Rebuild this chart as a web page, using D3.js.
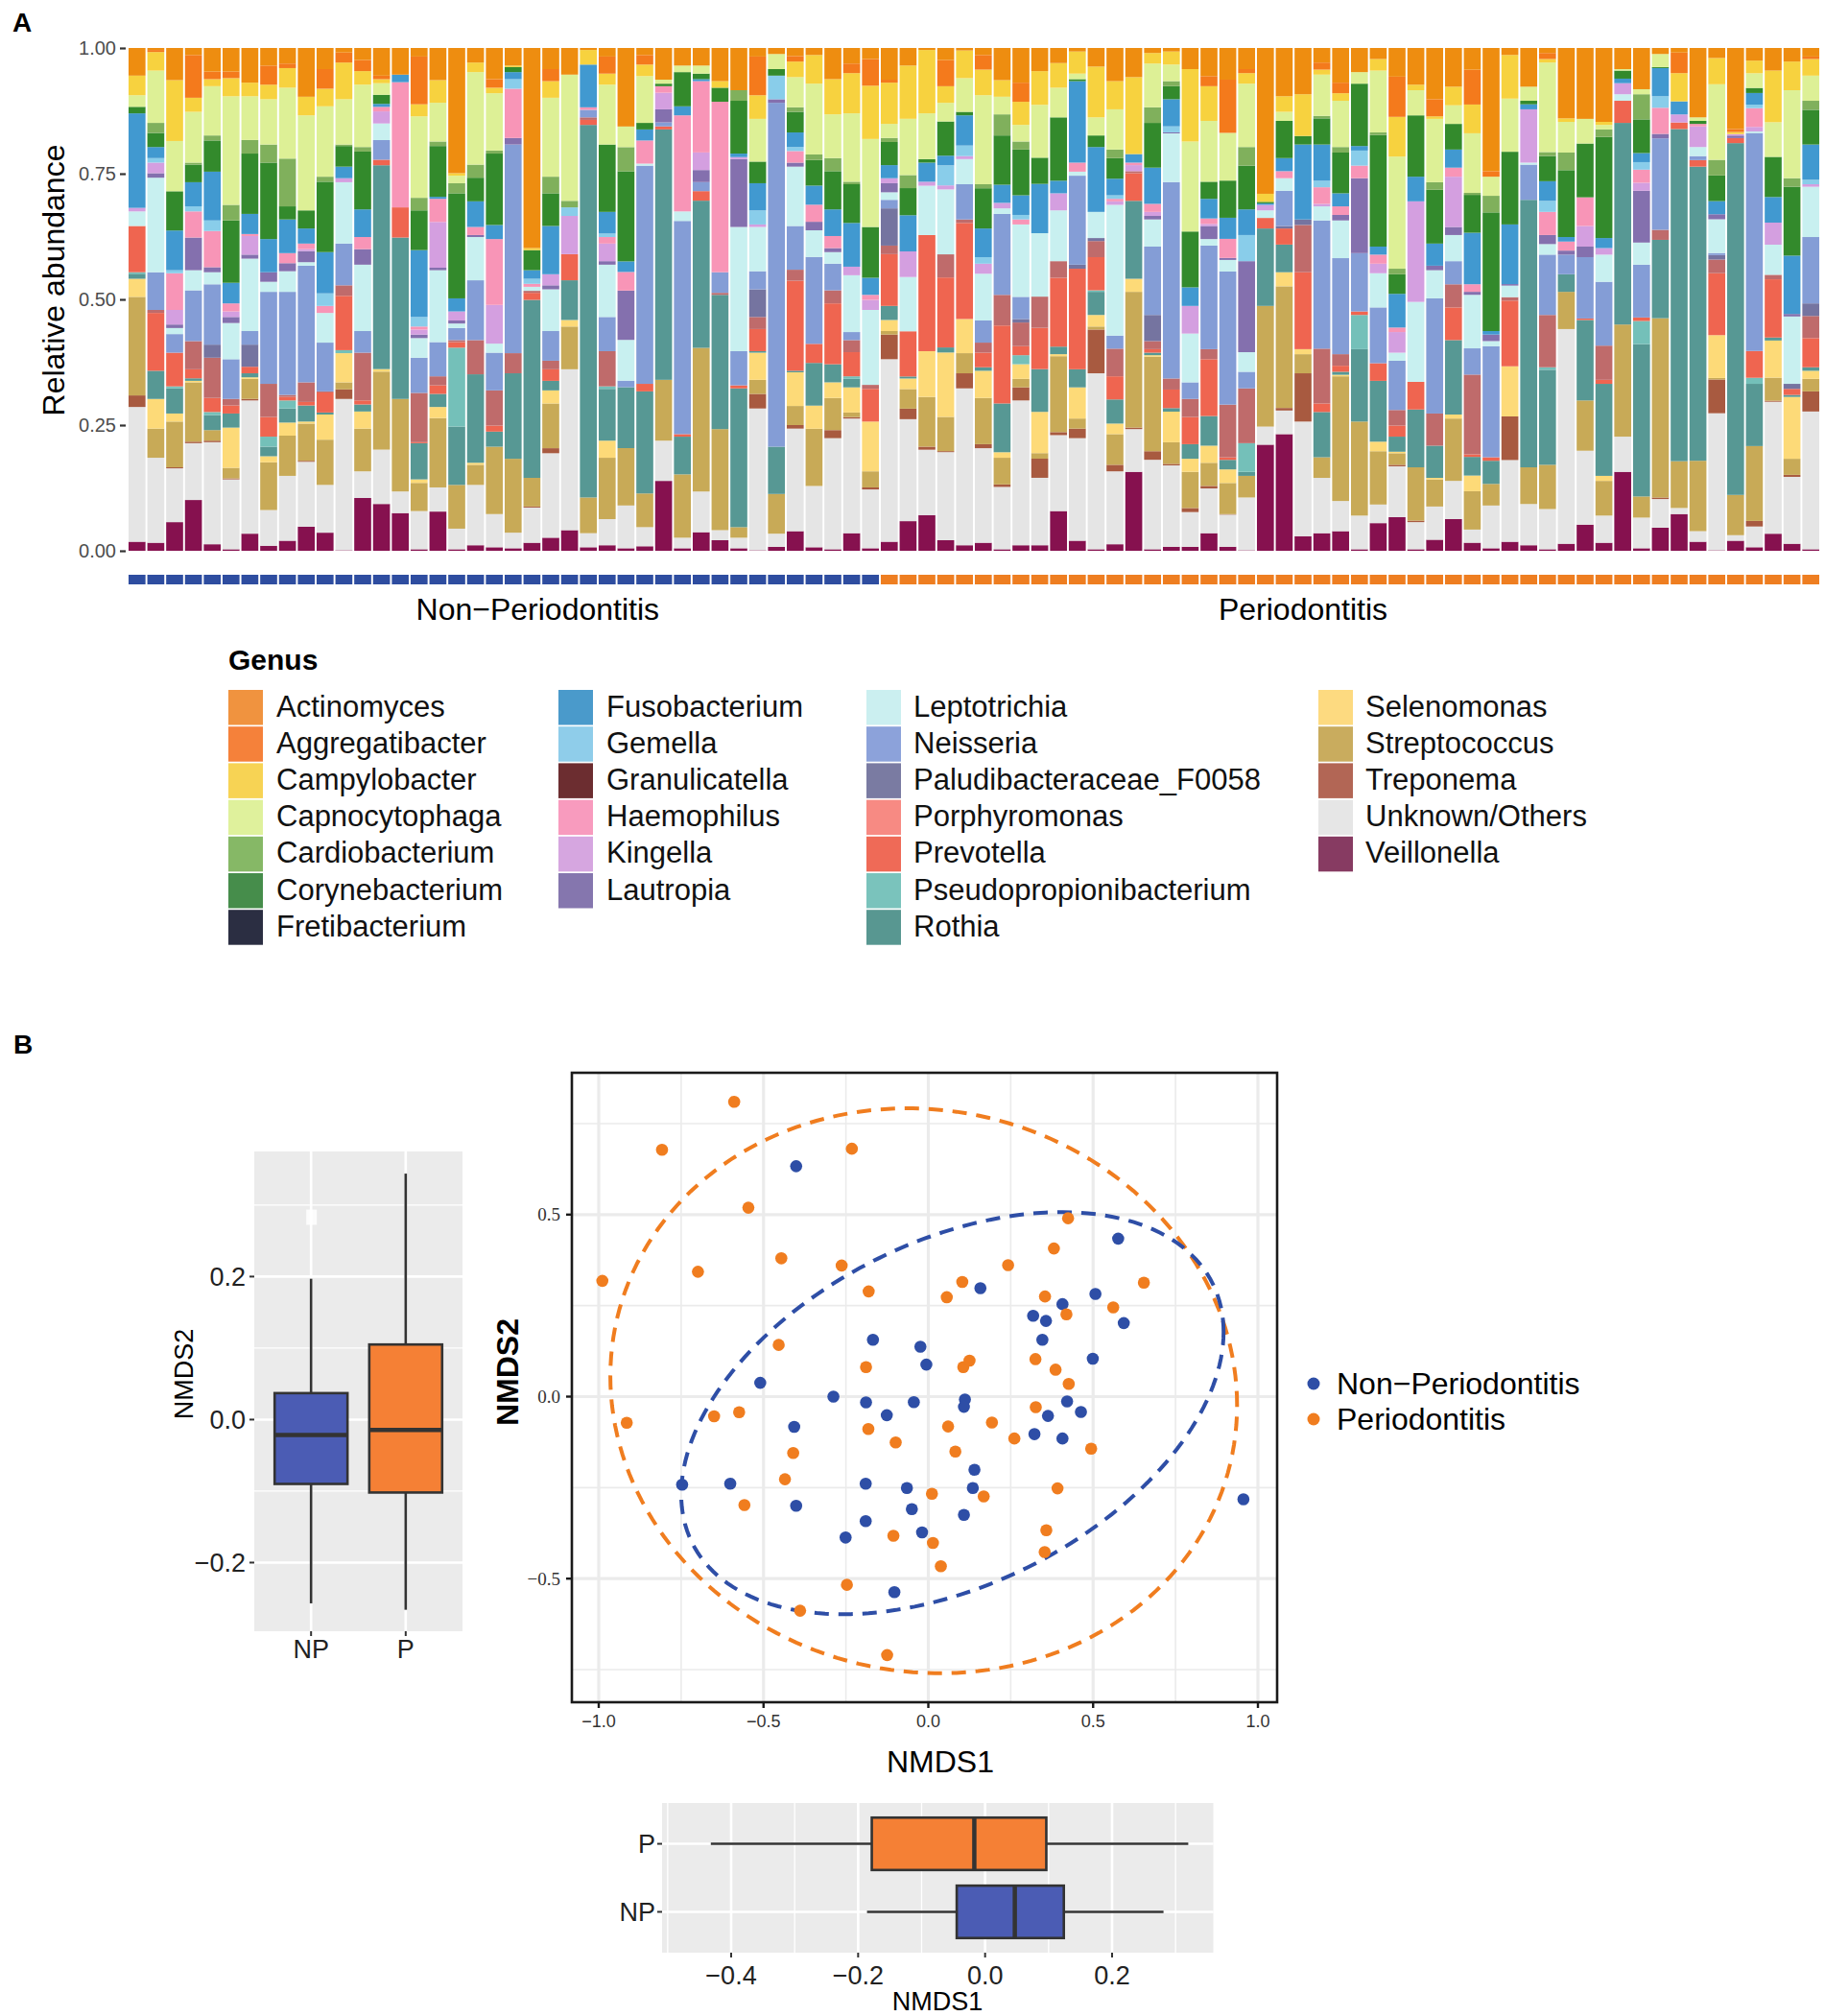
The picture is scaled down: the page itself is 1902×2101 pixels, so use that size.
<!DOCTYPE html>
<head>
  <meta charset="utf-8">
  <script src="https://d3js.org/d3.v7.min.js"></script>
  <style>
    body { margin: 0; background: #fff; }
    text { font-family: 'Liberation Sans', Arial, sans-serif; fill: #1a1a1a; }
    text.tag { font-size: 28px; font-weight: 700; fill: #000; }
    text.tickA { font-size: 20px; fill: #4d4d4d; }
    text.title32 { font-size: 32px; fill: #000; }
    text.legendTitle { font-size: 30px; font-weight: 700; fill: #000; }
    text.legendItem { font-size: 31px; fill: #111; }
    text.box { font-size: 27px; fill: #222; }
    text.scatterTick { font-size: 18px; fill: #333; }
    text.scatterTickY { font-size: 19px; fill: #333; font-family: 'Liberation Serif', 'DejaVu Serif', serif; }
  </style>
</head>

<body>
  <script>
    // ---------- panel A data (percent per sample) ----------
    const genera = ['Actinomyces', 'Aggregatibacter', 'Campylobacter', 'Capnocytophaga', 'Cardiobacterium',
      'Corynebacterium', 'Fretibacterium', 'Fusobacterium', 'Gemella', 'Granulicatella', 'Haemophilus',
      'Kingella', 'Lautropia', 'Leptotrichia', 'Neisseria', 'Paludibacteraceae_F0058', 'Porphyromonas',
      'Prevotella', 'Pseudopropionibacterium', 'Rothia', 'Selenomonas', 'Streptococcus', 'Treponema',
      'Unknown/Others', 'Veillonella'];
    const barColours = ['#ee8d10', '#f47a1c', '#f7d23f', '#ddf096', '#80b05c', '#338a2c', '#2b2e42', '#4199d0',
      '#89cdea', '#6d2b2d', '#f895b7', '#d49fe0', '#8470ae', '#c8f0f0', '#849dd6', '#7574a0', '#bf6b6b',
      '#ef6550', '#74c0b9', '#579894', '#fdda78', '#c8aa57', '#a85a40', '#e5e5e5', '#86114f'];
    const legendColours = ['#f0933f', '#f5813a', '#f7d354', '#dff19c', '#86b866', '#468d4b', '#2b2e42', '#4a9acb',
      '#8fcdea', '#6c2d30', '#f89bbe', '#d6a6e0', '#8576ae', '#cbeff0', '#8ca2da', '#7a7ba2', '#f78a83',
      '#ef6a57', '#7ac3bc', '#589791', '#fdda80', '#c9ac5e', '#b26655', '#e6e6e6', '#873b62'];
    const legendRows = [7, 6, 7, 5];

    const groupNames = ['Non\u2212Periodontitis', 'Periodontitis'];
    const groupSizes = [40, 50];
    const groupColours = ['#2e4da0', '#ee7e21'];

    const actinomyces = [5.5, 0.4, 6.4, 1.4, 4.7, 4.7, 6.9, 3.5, 3.1, 9.7,
      4.2, 0.9, 2.4, 5.5, 5.3, 1.7, 6.4, 24.9, 2.9, 6.2,
      3.5, 39.8, 4.2, 5.3, 0.4, 1.7, 15.6, 1.4, 6.3, 3.5,
      3.5, 6.6, 8.4, 1.7, 1.2, 1.6, 1.4, 6.2, 3.1, 2.2,
      6.3, 3.5, 0.4, 2.4, 0.5, 1.4, 6.4, 6.9, 4.6, 3.0,
      0.7, 3.7, 6.6, 5.8, 1.0, 0.7, 4.2, 5.6, 6.3, 4.2,
      29.0, 9.6, 9.2, 2.9, 6.9, 4.8, 2.2, 5.7, 7.3, 10.2,
      7.7, 4.3, 24.5, 1.4, 7.7, 1.0, 14.0, 14.1, 14.7, 4.2,
      8.2, 1.2, 0.9, 13.8, 2.0, 16.1, 2.5, 4.5, 2.7, 1.7];
    const aggregatibacter = [0, 0.4, 0, 8.5, 1.5, 1.3, 0, 3.8, 0.9, 0,
      3.9, 2.0, 2.2, 0.7, 0, 9.5, 0, 0, 0, 1.7,
      0, 0, 2.4, 0, 0, 3.4, 0, 1.9, 0, 0,
      0, 0, 0, 7.7, 0, 1.1, 0, 0, 1.9, 5.3,
      0.6, 0, 0, 5.2, 0, 2.9, 0, 3.8, 0, 0,
      0, 0, 0, 0, 0, 0, 0, 2.0, 10.6, 0.8,
      0, 0, 0, 1.4, 2.1, 0, 0, 8.0, 0, 3.4,
      0, 6.9, 1.1, 0, 0, 1.2, 0, 0, 0, 0,
      0, 0, 4.1, 0, 0, 0.6, 0, 0, 0, 0.5];
    const campylobacter = [3.9, 3.7, 12.1, 2.8, 1.4, 3.6, 2.7, 2.9, 3.9, 3.7,
      3.5, 7.3, 2.7, 0.8, 0, 2.4, 4.5, 0.5, 1.9, 1.1,
      0.3, 0.4, 3.3, 0, 2.9, 2.2, 0, 2.3, 0, 0,
      0, 1.3, 0, 4.7, 0, 3.1, 5.7, 7.0, 8.0, 10.6,
      8.2, 10.6, 12.6, 3.3, 5.5, 5.1, 3.3, 4.6, 6.7, 4.9,
      4.4, 10.1, 5.6, 15.3, 2.1, 2.6, 14.4, 6.9, 0, 2.1,
      1.6, 3.1, 8.3, 1.0, 1.5, 0, 2.3, 7.9, 1.1, 0.5,
      3.7, 5.7, 0, 8.7, 0, 0.7, 0.7, 0, 0.6, 0,
      0, 0, 5.6, 0, 5.2, 0.4, 2.5, 10.3, 5.7, 3.3];
    const capnocytophaga = [2.3, 10.4, 10.0, 10.1, 9.8, 21.6, 8.7, 9.0, 14.1, 18.9,
      14.0, 9.0, 12.4, 2.3, 0, 16.2, 7.7, 1.5, 18.4, 11.4,
      0, 0, 15.7, 25.1, 0, 11.9, 4.1, 9.3, 0.8, 1.3,
      1.6, 0, 0, 8.5, 3.0, 6.0, 14.1, 8.7, 13.6, 17.5,
      2.8, 11.2, 9.1, 3.7, 6.7, 17.7, 3.5, 3.3, 10.5, 5.9,
      1.1, 3.6, 8.0, 0, 8.7, 3.3, 17.9, 12.1, 9.5, 12.6,
      0, 1.8, 0, 8.2, 9.2, 2.3, 12.3, 22.3, 5.0, 12.6,
      3.7, 11.8, 3.8, 10.6, 2.8, 17.8, 6.1, 4.9, 0.9, 0.3,
      1.0, 2.6, 0, 0.7, 15.0, 0, 2.9, 6.9, 17.5, 5.0];
    const cardiobacterium = [0, 2.0, 0, 0.4, 1.0, 3.1, 2.7, 3.6, 9.5, 0,
      1.0, 0.3, 0.9, 0, 0, 2.5, 0.9, 2.0, 2.6, 0.6,
      0, 0, 3.3, 1.3, 0, 0, 4.8, 0, 0, 0,
      0, 0, 2.1, 0, 0, 0.9, 1.1, 2.6, 0.5, 0,
      0.8, 2.6, 0, 0, 0, 0.8, 4.2, 1.6, 0, 0,
      0, 0, 1.7, 0, 3.1, 1.0, 0, 0, 0, 3.7,
      0, 0, 0, 0.5, 1.1, 0, 0.5, 1.1, 0, 1.5,
      0, 0.4, 3.3, 0, 0, 0.8, 3.5, 0, 1.5, 0,
      5.0, 0, 0, 0, 3.1, 0, 0, 0, 1.7, 1.8];
    const corynebacterium = [1.3, 2.8, 7.8, 3.5, 6.2, 12.4, 12.0, 15.2, 2.6, 3.6,
      14.0, 4.1, 11.5, 1.8, 0, 7.9, 10.1, 20.9, 4.7, 14.2,
      1.0, 4.0, 6.5, 0, 0, 13.4, 17.9, 1.3, 0.5, 6.8,
      1.1, 2.8, 10.5, 4.3, 1.3, 4.1, 5.1, 7.6, 7.7, 10.1,
      4.6, 5.4, 0.7, 6.8, 0.7, 8.0, 9.8, 9.1, 5.2, 12.6,
      0.4, 2.3, 4.1, 0, 8.9, 2.6, 11.1, 3.4, 7.4, 8.7,
      0.3, 7.4, 1.7, 5.2, 8.1, 12.4, 22.2, 3.9, 12.2, 10.7,
      5.1, 7.5, 23.6, 14.5, 0.7, 5.0, 13.3, 10.7, 20.1, 1.6,
      6.7, 0.2, 0, 0.6, 5.1, 0, 1.0, 8.0, 13.7, 6.9];
    const fretibacterium = [0, 0, 0, 0, 0, 0, 0, 0, 0, 0,
      0, 0, 0, 0, 0, 0, 0, 0, 0, 0,
      0, 0, 0, 0, 0, 0, 0, 0, 0, 0,
      0, 0, 0, 0, 0, 0, 0, 0, 0, 0,
      0, 0, 0, 0, 0, 0, 0, 0, 0, 0,
      0, 0, 0, 0, 0, 0, 0, 0, 0, 0,
      0, 0, 0, 0, 0, 0, 0, 0, 0, 0,
      0, 0, 0, 0, 0, 0, 0, 0, 0, 0,
      0, 0, 0, 0, 0, 0, 0, 0, 0, 0];
    const fusobacterium = [18.8, 2.2, 7.9, 4.8, 9.7, 4.1, 4.0, 6.6, 6.7, 3.0,
      8.2, 2.3, 5.5, 0.6, 1.5, 13.3, 0.4, 2.6, 5.1, 2.8,
      1.4, 1.7, 9.6, 0, 8.5, 4.3, 2.1, 2.2, 0, 1.8,
      0.4, 0, 0.7, 5.4, 0, 2.9, 3.8, 5.3, 8.7, 3.4,
      2.6, 7.2, 3.8, 1.9, 6.0, 5.7, 3.6, 3.9, 9.8, 2.5,
      16.2, 12.9, 3.3, 1.7, 7.2, 5.4, 3.7, 3.9, 4.2, 5.1,
      0.3, 2.6, 14.9, 7.2, 2.6, 0.9, 1.6, 6.7, 4.9, 4.4,
      3.6, 10.2, 0.7, 11.9, 1.0, 3.9, 0.9, 0, 2.0, 0.9,
      1.8, 5.6, 2.6, 0, 2.6, 0, 2.3, 5.1, 11.6, 7.0];
    const gemella = [0, 0.9, 0.6, 1.0, 2.1, 0, 0, 0, 0, 0,
      2.5, 0, 0, 0, 0, 1.9, 0, 0, 0, 0,
      1.9, 1.0, 0, 1.7, 0, 0.7, 0, 0, 0, 0,
      0, 0, 0, 2.8, 4.7, 0.8, 0, 0, 0, 0,
      0, 0, 0, 4.0, 2.1, 1.3, 0, 0.9, 0, 0,
      0, 0, 0.7, 0, 0, 1.2, 0, 0, 0, 5.2,
      0, 0, 0, 1.3, 0, 3.0, 0, 0, 0, 0,
      0, 0, 0, 0, 0, 2.2, 0, 0, 0, 0,
      1.5, 2.3, 0, 0, 0, 0, 0.7, 0, 0, 0.9];
    const granulicatella = [0, 0, 0, 0, 0, 0, 0, 0, 0, 0,
      0, 0, 0, 0, 0, 0, 0, 0, 0, 0,
      0, 0, 0, 0, 0, 0, 0, 0, 0, 0,
      0, 0, 0, 0, 0, 0, 0, 0, 0, 0,
      0, 0, 0, 0, 0, 0, 0, 0, 0, 0,
      0, 0, 0, 0, 0, 0, 0, 0, 0, 0,
      0, 0, 0, 0, 0, 0, 0, 0, 0, 0,
      0, 0, 0, 0, 0, 0, 0, 0, 0, 0,
      0, 0, 0, 0, 0, 0, 0, 0, 0, 0];
    const haemophilus = [0, 0, 7.3, 5.2, 7.2, 1.6, 0.4, 0, 2.0, 1.1,
      1.4, 0, 2.4, 0.9, 24.9, 0.6, 4.6, 0, 1.6, 13.1,
      9.8, 0.6, 0, 0, 0.5, 1.3, 3.7, 4.6, 1.3, 19.1,
      14.2, 33.9, 0, 0, 0, 2.3, 3.4, 2.4, 0, 1.0,
      0, 0, 0, 0, 0, 0, 0, 1.0, 0, 0,
      1.8, 0, 0.5, 0.5, 1.6, 0, 0, 1.1, 3.8, 0,
      0, 1.4, 0, 3.3, 1.7, 2.5, 1.8, 0.9, 0, 0,
      1.8, 1.5, 0, 0, 0, 4.6, 1.8, 5.7, 0, 0,
      2.6, 5.2, 0, 0.5, 0, 0, 3.7, 0, 0, 0];
    const kingella = [0.7, 2.1, 2.9, 0, 0, 1.1, 3.7, 0, 0, 0.4,
      0, 0.8, 0, 2.4, 0, 1.0, 9.1, 1.8, 0, 7.7,
      0, 0, 2.2, 7.6, 0, 3.5, 0, 0, 3.3, 0,
      3.5, 0, 0.4, 0.5, 0, 0, 0, 0, 1.7, 2.0,
      1.0, 5.1, 0.8, 0.8, 0.6, 2.0, 1.1, 0, 0, 3.4,
      0, 0, 0.7, 1.2, 0.8, 0, 5.5, 0.4, 0, 0,
      1.1, 0, 0, 0.5, 0, 0, 1.9, 4.1, 20.0, 0,
      10.0, 0, 0, 0, 10.6, 0, 0, 4.1, 1.3, 2.2,
      1.6, 0, 1.6, 4.1, 0, 0.3, 0.9, 4.4, 0, 0.5];
    const lautropia = [0, 0.9, 0.7, 6.5, 1.0, 1.2, 0.8, 1.9, 1.6, 2.2,
      0, 0, 3.1, 0, 0, 0.7, 0.5, 0.6, 0.4, 0,
      1.3, 0, 0.8, 0, 0, 0.7, 9.8, 0, 2.6, 0,
      2.4, 0, 13.5, 0, 0.7, 0.8, 1.7, 0.8, 0, 0,
      1.8, 0, 0, 0, 0, 0, 0, 0, 0, 0,
      0, 0, 0, 0, 0.7, 0.2, 0, 2.6, 0.4, 18.1,
      0, 0, 0, 0, 1.1, 14.9, 0, 0, 0, 0.9,
      1.6, 0.6, 1.3, 0.3, 0, 1.8, 0.8, 2.1, 0, 0,
      10.3, 0.9, 0, 0, 1.0, 0.5, 0, 0, 0.5, 0];
    const leptotrichia = [2.9, 18.8, 1.2, 4.0, 2.4, 7.2, 14.4, 2.0, 4.1, 0.7,
      5.9, 12.2, 13.2, 3.3, 0, 3.9, 14.3, 0.9, 8.6, 1.8,
      0, 0.8, 8.3, 0, 0, 10.4, 8.1, 0.4, 0, 1.9,
      0, 0, 24.7, 8.8, 0, 11.8, 5.3, 2.3, 11.3, 14.9,
      1.5, 10.8, 9.8, 12.9, 5.0, 9.3, 1.1, 14.4, 12.6, 10.1,
      0.8, 5.2, 26.0, 0, 5.4, 9.7, 9.7, 1.3, 2.3, 3.9,
      1.5, 2.5, 0, 2.8, 7.5, 0, 6.8, 1.6, 15.9, 5.6,
      5.2, 10.6, 1.0, 2.3, 0.4, 2.1, 0, 0, 5.4, 1.3,
      4.4, 0, 0, 1.8, 6.7, 0, 0.3, 6.0, 13.4, 10.0];
    const neisseria = [0, 7.5, 3.7, 10.1, 12.0, 7.9, 2.7, 18.3, 20.5, 23.2,
      9.7, 8.3, 4.3, 3.9, 0, 7.0, 6.8, 2.4, 11.9, 7.5,
      41.5, 0, 5.9, 0, 1.5, 6.8, 1.3, 43.4, 0.8, 42.4,
      1.8, 4.1, 6.8, 3.6, 68.4, 8.7, 17.3, 5.3, 1.6, 0,
      1.7, 0, 0, 0, 7.0, 4.4, 16.1, 4.4, 0, 0,
      17.7, 0, 2.6, 0, 13.6, 39.1, 3.3, 20.6, 26.5, 3.3,
      0, 7.0, 0, 25.5, 19.1, 11.6, 11.1, 9.8, 0, 22.9,
      4.6, 5.2, 22.1, 0, 7.0, 12.0, 3.9, 12.2, 12.7, 0,
      10.5, 18.2, 0, 0.8, 0.4, 0, 43.1, 0, 0, 13.2];
    const paludibacteraceae = [0, 0, 0, 0, 2.6, 0, 4.4, 0, 0, 0,
      0, 0, 0, 0, 0, 0, 0, 0, 0, 0,
      0, 0, 0, 0, 0, 0, 0, 0, 0, 0,
      0, 0, 0, 5.5, 0, 0, 0, 0, 0, 0,
      7.4, 0, 0, 0, 0, 0, 0, 0.7, 0, 0,
      0.8, 0.6, 0, 0, 5.2, 0, 0, 0, 0, 0,
      0, 0.5, 1.1, 0, 0, 0, 0, 0, 0, 0,
      0, 0, 0, 0, 0, 0, 0, 0, 0, 0,
      0, 0, 0, 0, 0.9, 0, 0, 0, 1.0, 2.5];
    const porphyromonas = [0, 0.6, 0, 5.6, 8.0, 1.3, 0, 6.6, 0.4, 3.9,
      0.2, 2.1, 9.5, 0, 0, 9.8, 1.8, 0.4, 6.8, 7.0,
      4.0, 0.4, 1.7, 0, 0.5, 7.0, 0, 0, 0, 0,
      0, 0.4, 0, 2.4, 0, 2.2, 0, 2.6, 2.4, 0.8,
      1.7, 0, 0, 4.6, 0.7, 2.0, 6.1, 4.7, 6.2, 3.3,
      0, 3.2, 5.5, 0.4, 1.6, 2.2, 3.6, 2.0, 10.5, 10.9,
      0, 0, 9.4, 10.9, 2.3, 0, 0, 3.1, 0, 6.4,
      4.6, 15.8, 0, 0.7, 0, 10.4, 0, 0, 6.8, 0,
      0, 2.0, 0, 0, 2.7, 0, 0, 0.9, 0, 4.4];
    const prevotella = [9.2, 11.5, 6.7, 1.8, 2.8, 1.6, 1.3, 3.9, 0.7, 0.7,
      4.0, 10.8, 0.8, 1.1, 6.0, 0.2, 1.7, 1.1, 0, 1.2,
      0, 1.4, 2.3, 5.2, 1.0, 0, 0, 1.5, 0.6, 0.5,
      1.9, 0, 0.6, 4.4, 0, 17.9, 3.8, 12.1, 4.8, 6.5,
      10.3, 9.0, 23.1, 13.9, 19.1, 2.9, 15.5, 1.8, 8.2, 13.7,
      20.0, 6.6, 4.6, 5.5, 0.7, 3.7, 5.4, 11.3, 0.5, 0,
      2.1, 3.2, 15.3, 1.7, 1.2, 0.7, 3.5, 2.2, 5.5, 0,
      6.5, 0.5, 0.7, 13.1, 0, 0, 0, 0.3, 0.8, 4.4,
      0.7, 0, 1.3, 1.3, 12.3, 1.0, 5.3, 11.6, 1.2, 5.8];
    const pseudopropionibacterium = [0.3, 0, 0.4, 0, 0.6, 0, 0, 2.0, 1.6, 0,
      0, 0.6, 0, 0, 0, 0, 0, 15.7, 0, 0,
      0, 0, 0, 0, 0, 0.5, 0, 0, 0, 0,
      0, 0, 0, 0, 0, 0, 0, 0, 0.5, 0,
      0, 0, 0, 0, 0, 0, 0, 1.8, 0, 0,
      0, 0.3, 0, 0, 0, 0, 0, 0, 0, 5.7,
      0, 0, 0, 0, 0, 6.8, 0, 0, 0, 0,
      0, 0, 0, 0, 0, 0.5, 0, 0, 0, 0,
      4.6, 0, 0, 0, 0, 0, 1.2, 0, 0, 0];
    const rothia = [1.0, 5.6, 5.0, 0.5, 3.0, 2.8, 0.8, 1.9, 2.8, 3.2,
      0.4, 0, 1.4, 40.5, 32.1, 7.2, 2.6, 11.6, 17.6, 3.0,
      17.0, 35.4, 1.9, 7.9, 74.1, 10.3, 12.1, 20.3, 49.8, 7.5,
      29.3, 26.7, 27.6, 0.3, 9.4, 0.3, 8.5, 3.6, 1.7, 0,
      2.8, 0.4, 0, 1.0, 0, 0.7, 9.7, 0, 8.5, 1.5,
      3.6, 4.6, 4.8, 15.5, 0.5, 0.7, 2.9, 5.9, 1.9, 0.8,
      15.4, 5.5, 0, 9.0, 0.6, 14.4, 12.1, 3.0, 11.5, 6.4,
      14.8, 3.7, 4.6, 0, 53.2, 18.9, 3.5, 16.0, 18.3, 40.1,
      30.3, 15.6, 66.0, 58.5, 0, 69.9, 12.3, 0.6, 0.4, 0.7];
    const selenomonas = [3.6, 5.9, 1.6, 0.3, 0, 8.0, 0.3, 1.2, 2.6, 0.4,
      5.0, 5.8, 3.4, 0.5, 0, 0.7, 2.2, 0, 0.4, 0,
      0, 0, 2.6, 1.3, 0, 3.4, 0, 0, 0, 0,
      0, 0, 0, 5.4, 0, 6.7, 4.6, 3.1, 5.0, 9.9,
      2.2, 2.1, 9.1, 12.8, 6.8, 5.4, 1.1, 2.9, 8.2, 0.4,
      6.2, 2.3, 2.1, 2.6, 0.3, 6.1, 2.6, 3.4, 2.7, 0,
      0, 2.8, 1.0, 0, 0.3, 0, 1.9, 0.3, 0, 0.3,
      0.8, 3.1, 0, 10.0, 0, 0, 0, 0, 1.0, 0,
      0, 0, 0, 0, 8.5, 0, 0, 7.4, 12.3, 1.6];
    const streptococcus = [19.6, 5.8, 9.1, 11.8, 2.1, 2.1, 4.0, 9.5, 8.0, 7.4,
      9.0, 1.4, 8.5, 15.5, 18.4, 5.6, 13.8, 8.7, 4.0, 13.4,
      14.7, 5.7, 8.9, 8.5, 7.1, 12.2, 11.4, 6.7, 12.1, 12.6,
      28.6, 20.1, 2.1, 2.8, 7.9, 3.8, 11.4, 6.4, 0.9, 3.2,
      0.7, 3.9, 9.9, 6.8, 4.0, 9.2, 5.3, 1.7, 1.1, 15.1,
      2.0, 0.6, 6.1, 27.0, 18.8, 4.3, 7.2, 4.6, 6.2, 4.3,
      24.0, 24.2, 3.8, 4.1, 24.8, 18.7, 10.6, 2.3, 10.6, 5.4,
      12.4, 7.6, 4.3, 0, 7.3, 8.8, 7.4, 10.0, 6.9, 22.3,
      4.2, 35.7, 9.3, 14.0, 0.3, 8.0, 14.8, 4.6, 3.2, 2.5];
    const treponema = [2.3, 0, 0.2, 0.3, 0.3, 0.2, 0.3, 0, 0, 0.2,
      0, 1.9, 0, 0, 0, 0, 0, 0, 0, 0,
      0, 0.2, 1.0, 0, 0, 0, 0, 0, 0, 0,
      0, 0, 0, 2.9, 0, 0.7, 0, 1.6, 0.3, 0.4,
      4.9, 2.1, 0.6, 0.2, 3.0, 0.8, 0.5, 2.6, 3.8, 0.6,
      1.9, 8.7, 1.3, 0.3, 1.7, 0.3, 0.8, 0.5, 0.1, 0,
      0, 0.5, 9.6, 0, 0, 0, 0, 0.3, 0.3, 0,
      0, 0, 0, 8.7, 0, 0, 0, 0, 0, 0,
      0, 0.3, 0, 0, 6.7, 0, 1.1, 0.2, 0.4, 4.0];
    const unknownOthers = [26.8, 16.9, 10.7, 11.3, 20.3, 13.9, 26.5, 7.1, 12.9, 12.9,
      9.5, 30.1, 5.3, 10.8, 4.3, 7.6, 4.8, 4.1, 12.0, 6.6,
      3.1, 7.0, 16.8, 32.0, 2.8, 5.2, 8.5, 3.8, 8.0, 2.1,
      8.1, 2.0, 2.1, 28.2, 2.6, 20.4, 12.2, 22.1, 22.8, 11.7,
      36.3, 20.3, 13.0, 17.5, 31.2, 18.8, 12.4, 28.8, 13.4, 15.1,
      20.4, 35.0, 14.5, 8.5, 17.8, 16.2, 6.9, 8.9, 6.4, 10.5,
      3.6, 4.7, 22.8, 11.0, 6.0, 6.7, 3.7, 10.1, 5.4, 6.6,
      7.6, 2.6, 8.5, 16.3, 8.2, 8.0, 42.7, 14.7, 5.4, 7.0,
      6.1, 5.7, 1.2, 2.1, 27.2, 1.1, 4.1, 26.3, 13.3, 27.4];
    const veillonella = [1.8, 1.6, 5.7, 10.1, 1.3, 0.3, 3.4, 1.0, 2.0, 4.8,
      3.6, 0.1, 10.5, 9.3, 7.5, 0.3, 7.8, 0.3, 1.1, 0.7,
      0.5, 1.6, 2.6, 4.1, 0.7, 1.1, 0.5, 0.9, 13.9, 0.5,
      3.7, 2.1, 0.5, 0.1, 0.8, 3.9, 0.7, 0.3, 3.5, 0.5,
      1.8, 5.9, 7.1, 2.1, 1.1, 1.6, 0.3, 1.1, 1.1, 7.9,
      2.0, 0.3, 1.3, 15.7, 0.3, 0.8, 0.8, 3.5, 0.8, 0.1,
      21.1, 23.2, 2.9, 3.5, 3.9, 0.3, 5.5, 6.7, 0.3, 2.2,
      6.3, 1.6, 0.5, 1.8, 1.1, 0.3, 1.4, 5.2, 1.6, 15.7,
      0.5, 4.6, 7.3, 1.8, 0.1, 2.0, 0.7, 3.4, 1.4, 0.3];

    // ---------- panel B data ----------
    // NMDS scores
    const npX = [-0.401, 0.576, 0.158, 0.507, 0.407, 0.318, 0.357, 0.593, 0.346, -0.168,
      -0.024, -0.006, 0.499, -0.510, -0.288, -0.189, -0.126, -0.044, 0.111, 0.108,
      0.421, 0.463, 0.363, -0.407, 0.322, 0.407, -0.747, -0.601, -0.401, -0.190,
      -0.065, 0.140, 0.135, -0.050, 0.108, -0.190, -0.019, -0.251, -0.103, 0.956];
    const npY = [0.633, 0.434, 0.298, 0.282, 0.254, 0.222, 0.208, 0.202, 0.156, 0.156,
      0.137, 0.088, 0.104, 0.038, 0.000, -0.016, -0.051, -0.015, -0.008, -0.028,
      -0.013, -0.042, -0.053, -0.083, -0.103, -0.115, -0.242, -0.239, -0.300, -0.239,
      -0.251, -0.201, -0.251, -0.309, -0.325, -0.342, -0.373, -0.387, -0.537, -0.282];
    const pX = [-0.589, -0.808, -0.232, -0.546, -0.989, -0.699, -0.446, -0.263, -0.181, 0.424,
      0.381, 0.242, 0.103, 0.056, 0.354, 0.419, 0.561, 0.654, -0.454, -0.189,
      0.106, 0.125, 0.325, 0.386, 0.426, 0.326, -0.915, -0.650, -0.574, -0.182,
      -0.099, 0.060, 0.193, 0.261, 0.494, 0.082, -0.410, -0.435, -0.558, 0.011,
      0.168, 0.392, -0.106, 0.014, 0.038, 0.358, 0.353, -0.247, -0.389, -0.125];
    const pY = [0.810, 0.678, 0.681, 0.519, 0.318, 0.343, 0.380, 0.360, 0.289, 0.490,
      0.407, 0.361, 0.315, 0.273, 0.275, 0.226, 0.245, 0.313, 0.142, 0.081,
      0.081, 0.099, 0.103, 0.074, 0.035, -0.029, -0.072, -0.054, -0.043, -0.089,
      -0.126, -0.082, -0.071, -0.115, -0.143, -0.151, -0.155, -0.227, -0.298, -0.267,
      -0.274, -0.252, -0.382, -0.402, -0.466, -0.367, -0.427, -0.517, -0.588, -0.710];
    // ellipse: centre x, centre y, var x, var y, cov xy
    const ellipseNP = [0.073, -0.0455, 0.677, 0.305, 0.1835];
    const ellipseP = [-0.014, 0.016, 0.904, 0.602, -0.038];

    // box stats: lower whisker, q1, median, q3, upper whisker
    const nmds2BoxNP = [-0.257, -0.090, -0.0216, 0.037, 0.197];
    const nmds2BoxP = [-0.266, -0.102, -0.0145, 0.105, 0.344];
    const nmds2OutlierNP = [0.283];
    const nmds1BoxNP = [-0.186, -0.0447, 0.0468, 0.124, 0.281];
    const nmds1BoxP = [-0.432, -0.1785, -0.017, 0.0964, 0.320];

    const npColour = '#2e4ea6', pColour = '#f07d1f';
    const npFill = '#4b5cb4', pFill = '#f58035';

    // ================= drawing =================
    const width = 1902, height = 2101;
    const svg = d3.select('body').append('svg')
      .attr('width', width)
      .attr('height', height);
    svg.append('rect').attr('width', width).attr('height', height).attr('fill', '#fff');

    svg.append('text').attr('class', 'tag').attr('x', 13).attr('y', 33).text('A');
    svg.append('text').attr('class', 'tag').attr('x', 14).attr('y', 1098).text('B');

    // ---- A: stacked bars ----
    const abundance = {};
    [actinomyces, aggregatibacter, campylobacter, capnocytophaga, cardiobacterium, corynebacterium,
      fretibacterium, fusobacterium, gemella, granulicatella, haemophilus, kingella, lautropia,
      leptotrichia, neisseria, paludibacteraceae, porphyromonas, prevotella, pseudopropionibacterium,
      rothia, selenomonas, streptococcus, treponema, unknownOthers, veillonella]
      .forEach((arr, i) => abundance[genera[i]] = arr);

    const nSamples = d3.sum(groupSizes);
    const samples = d3.range(nSamples).map(i => ({
      id: 'S' + (i + 1),
      group: i < groupSizes[0] ? 0 : 1
    }));
    const rows = samples.map((s, i) => {
      const tot = d3.sum(genera, g => abundance[g][i]);
      const r = { id: s.id };
      genera.forEach(g => r[g] = abundance[g][i] / tot);
      return r;
    });

    const x = d3.scaleBand()
      .domain(samples.map(d => d.id))
      .range([133, 1897])
      .paddingInner(0.1)
      .paddingOuter(0.05);
    const y = d3.scaleLinear().domain([0, 1]).range([574, 50]);

    const stacked = d3.stack().keys(genera.slice().reverse())(rows);

    svg.append('g')
      .selectAll('g')
      .data(stacked)
      .join('g')
      .attr('fill', d => barColours[genera.indexOf(d.key)])
      .selectAll('rect')
      .data(d => d)
      .join('rect')
      .attr('x', d => x(d.data.id))
      .attr('width', x.bandwidth())
      .attr('y', d => y(d[1]))
      .attr('height', d => Math.max(0, y(d[0]) - y(d[1])));

    const yAxisA = svg.append('g')
      .attr('transform', 'translate(131,0)')
      .call(d3.axisLeft(y).tickValues([0, 0.25, 0.5, 0.75, 1]).tickFormat(d3.format('.2f')).tickSize(6).tickPadding(4))
      .attr('font-size', null).attr('font-family', null);
    yAxisA.select('.domain').remove();
    yAxisA.selectAll('line').attr('stroke', '#333').attr('stroke-width', 2.2);
    yAxisA.selectAll('text').attr('class', 'tickA');

    svg.append('text')
      .attr('class', 'title32')
      .attr('transform', 'translate(67,292) rotate(-90)')
      .style('text-anchor', 'middle')
      .text('Relative abundance');

    // group strip
    svg.append('g')
      .selectAll('rect')
      .data(samples)
      .join('rect')
      .attr('x', d => x(d.id))
      .attr('width', x.bandwidth())
      .attr('y', 599)
      .attr('height', 10)
      .attr('fill', d => groupColours[d.group]);

    const idx = d3.scaleLinear().domain([0, nSamples]).range([133, 1897]);
    const groupLabelAt = [21.8, 62.5];
    groupNames.forEach((g, i) => {
      svg.append('text')
        .attr('class', 'title32')
        .attr('x', idx(groupLabelAt[i]))
        .attr('y', 646)
        .style('text-anchor', 'middle')
        .text(g);
    });

    // legend
    svg.append('text').attr('class', 'legendTitle').attr('x', 238).attr('y', 698).text('Genus');
    const keyX = [238, 582, 903, 1374];
    const labelX = [288, 632, 952, 1423];
    const colStart = d3.cumsum([0].concat(legendRows));
    genera.forEach((g, i) => {
      const col = d3.bisectRight(colStart, i) - 1;
      const row = i - colStart[col];
      const top = 719 + row * 38.2;
      svg.append('rect')
        .attr('x', keyX[col]).attr('y', top)
        .attr('width', 36).attr('height', 36.5)
        .attr('fill', legendColours[i]);
      svg.append('text')
        .attr('class', 'legendItem')
        .attr('x', labelX[col]).attr('y', top + 18 + 9.5)
        .text(g);
    });

    // ---- B: box plot helper ----
    function boxPanel(opts) {
      const g = svg.append('g');
      const { vScale, cScale, horizontal, stats, fills, cats, majors, minors, fmt, box } = opts;
      g.append('rect')
        .attr('x', box[0]).attr('y', box[1])
        .attr('width', box[2] - box[0]).attr('height', box[3] - box[1])
        .attr('fill', '#ebebeb');
      const gl = (v, w, along) => {
        if (along === 'value') {
          const p = vScale(v);
          if (horizontal) g.append('line').attr('x1', p).attr('x2', p).attr('y1', box[1]).attr('y2', box[3]).attr('stroke', '#fff').attr('stroke-width', w);
          else g.append('line').attr('y1', p).attr('y2', p).attr('x1', box[0]).attr('x2', box[2]).attr('stroke', '#fff').attr('stroke-width', w);
        } else {
          const p = cScale(v);
          if (horizontal) g.append('line').attr('y1', p).attr('y2', p).attr('x1', box[0]).attr('x2', box[2]).attr('stroke', '#fff').attr('stroke-width', w);
          else g.append('line').attr('x1', p).attr('x2', p).attr('y1', box[1]).attr('y2', box[3]).attr('stroke', '#fff').attr('stroke-width', w);
        }
      };
      minors.forEach(v => gl(v, 1.3, 'value'));
      majors.forEach(v => gl(v, 2.6, 'value'));
      cats.forEach((c, i) => gl(i + 1, 2.6, 'cat'));

      const half = 0.385;
      stats.forEach((s, i) => {
        const c = i + 1;
        const lineAttrs = (sel) => sel.attr('stroke', '#333').attr('stroke-width', 2.6);
        if (horizontal) {
          const cy = cScale(c);
          lineAttrs(g.append('line').attr('x1', vScale(s[0])).attr('x2', vScale(s[1])).attr('y1', cy).attr('y2', cy));
          lineAttrs(g.append('line').attr('x1', vScale(s[3])).attr('x2', vScale(s[4])).attr('y1', cy).attr('y2', cy));
          const y0 = cScale(c - half), y1 = cScale(c + half);
          g.append('rect')
            .attr('x', vScale(s[1])).attr('width', vScale(s[3]) - vScale(s[1]))
            .attr('y', Math.min(y0, y1)).attr('height', Math.abs(y1 - y0))
            .attr('fill', fills[i]).attr('stroke', '#333').attr('stroke-width', 2.6);
          g.append('line').attr('x1', vScale(s[2])).attr('x2', vScale(s[2]))
            .attr('y1', Math.min(y0, y1)).attr('y2', Math.max(y0, y1))
            .attr('stroke', '#333').attr('stroke-width', 4.5);
        } else {
          const cx = cScale(c);
          lineAttrs(g.append('line').attr('y1', vScale(s[0])).attr('y2', vScale(s[1])).attr('x1', cx).attr('x2', cx));
          lineAttrs(g.append('line').attr('y1', vScale(s[3])).attr('y2', vScale(s[4])).attr('x1', cx).attr('x2', cx));
          const x0 = cScale(c - half), x1 = cScale(c + half);
          g.append('rect')
            .attr('x', x0).attr('width', x1 - x0)
            .attr('y', vScale(s[3])).attr('height', vScale(s[1]) - vScale(s[3]))
            .attr('fill', fills[i]).attr('stroke', '#333').attr('stroke-width', 2.6);
          g.append('line').attr('y1', vScale(s[2])).attr('y2', vScale(s[2]))
            .attr('x1', x0).attr('x2', x1)
            .attr('stroke', '#333').attr('stroke-width', 4.5);
        }
      });

      // axes
      majors.forEach(v => {
        const p = vScale(v);
        if (horizontal) {
          g.append('line').attr('x1', p).attr('x2', p).attr('y1', box[3]).attr('y2', box[3] + 5).attr('stroke', '#333').attr('stroke-width', 2);
          g.append('text').attr('class', 'box').attr('x', p).attr('y', box[3] + 33).style('text-anchor', 'middle').text(fmt(v));
        } else {
          g.append('line').attr('x1', box[0] - 5).attr('x2', box[0]).attr('y1', p).attr('y2', p).attr('stroke', '#333').attr('stroke-width', 2);
          g.append('text').attr('class', 'box').attr('x', box[0] - 9).attr('y', p).attr('dy', '0.35em').style('text-anchor', 'end').text(fmt(v));
        }
      });
      cats.forEach((c, i) => {
        const p = cScale(i + 1);
        if (horizontal) {
          g.append('line').attr('x1', box[0] - 5).attr('x2', box[0]).attr('y1', p).attr('y2', p).attr('stroke', '#333').attr('stroke-width', 2);
          g.append('text').attr('class', 'box').attr('x', box[0] - 7).attr('y', p).attr('dy', '0.35em').style('text-anchor', 'end').text(c);
        } else {
          g.append('line').attr('x1', p).attr('x2', p).attr('y1', box[3]).attr('y2', box[3] + 5).attr('stroke', '#333').attr('stroke-width', 2);
          g.append('text').attr('class', 'box').attr('x', p).attr('y', box[3] + 28).style('text-anchor', 'middle').text(c);
        }
      });
      return g;
    }

    const fmt1 = d3.format('.1f');

    // ---- B: left box plot (NMDS2) ----
    const leftBox = [265, 1200, 482, 1700];
    const yLeft = d3.scaleLinear().domain([-0.296, 0.375]).range([leftBox[3], leftBox[1]]);
    const cLeft = d3.scaleLinear().domain([0.4, 2.6]).range([leftBox[0], leftBox[2]]);
    const lg = boxPanel({
      vScale: yLeft, cScale: cLeft, horizontal: false,
      stats: [nmds2BoxNP, nmds2BoxP], fills: [npFill, pFill], cats: ['NP', 'P'],
      majors: [-0.2, 0, 0.2], minors: [-0.3, -0.1, 0.1, 0.3], fmt: fmt1, box: leftBox
    });
    lg.selectAll('rect.out')
      .data(nmds2OutlierNP)
      .join('rect')
      .attr('class', 'out')
      .attr('x', cLeft(1) - 5).attr('y', d => yLeft(d) - 8)
      .attr('width', 11).attr('height', 16)
      .attr('fill', '#fff').attr('opacity', 0.85);
    svg.append('text')
      .attr('class', 'box')
      .attr('transform', 'translate(201,1432) rotate(-90)')
      .style('text-anchor', 'middle')
      .style('fill', '#000')
      .text('NMDS2');

    // ---- B: scatter ----
    const sBox = [596, 1118, 1331, 1774];
    const xS = d3.scaleLinear().domain([-1, 1]).range([624, 1311]);
    const yS = d3.scaleLinear().domain([-0.5, 0.5]).range([1645.2, 1265.8]);
    const sg = svg.append('g');
    sg.append('rect').attr('x', sBox[0]).attr('y', sBox[1]).attr('width', sBox[2] - sBox[0]).attr('height', sBox[3] - sBox[1]).attr('fill', '#fff');
    [-0.75, -0.25, 0.25, 0.75].forEach(v => {
      sg.append('line').attr('x1', xS(v)).attr('x2', xS(v)).attr('y1', sBox[1]).attr('y2', sBox[3]).attr('stroke', '#ebebeb').attr('stroke-width', 1.6);
      sg.append('line').attr('y1', yS(v)).attr('y2', yS(v)).attr('x1', sBox[0]).attr('x2', sBox[2]).attr('stroke', '#ebebeb').attr('stroke-width', 1.6);
    });
    const xMaj = [-1, -0.5, 0, 0.5, 1], yMaj = [-0.5, 0, 0.5];
    xMaj.forEach(v => sg.append('line').attr('x1', xS(v)).attr('x2', xS(v)).attr('y1', sBox[1]).attr('y2', sBox[3]).attr('stroke', '#ebebeb').attr('stroke-width', 3.2));
    yMaj.forEach(v => sg.append('line').attr('y1', yS(v)).attr('y2', yS(v)).attr('x1', sBox[0]).attr('x2', sBox[2]).attr('stroke', '#ebebeb').attr('stroke-width', 3.2));

    const ellipsePath = (e) => {
      const [cx, cy, sxx, syy, sxy] = e;
      const m11 = Math.sqrt(sxx), m21 = sxy / m11, m22 = Math.sqrt(syy - m21 * m21);
      const pts = d3.range(0, 2 * Math.PI, Math.PI / 90).map(t => [
        xS(cx + m11 * Math.cos(t)),
        yS(cy + m21 * Math.cos(t) + m22 * Math.sin(t))
      ]);
      return d3.line().curve(d3.curveLinearClosed)(pts);
    };
    sg.append('path').attr('d', ellipsePath(ellipseP)).attr('fill', 'none').attr('stroke', pColour)
      .attr('stroke-width', 4).attr('stroke-dasharray', '15 10');
    sg.append('path').attr('d', ellipsePath(ellipseNP)).attr('fill', 'none').attr('stroke', npColour)
      .attr('stroke-width', 4).attr('stroke-dasharray', '15 10');

    const pts = npX.map((v, i) => ({ x: v, y: npY[i], c: npColour }))
      .concat(pX.map((v, i) => ({ x: v, y: pY[i], c: pColour })));
    sg.selectAll('circle')
      .data(pts)
      .join('circle')
      .attr('cx', d => xS(d.x))
      .attr('cy', d => yS(d.y))
      .attr('r', 6.3)
      .attr('fill', d => d.c);

    sg.append('rect').attr('x', sBox[0]).attr('y', sBox[1]).attr('width', sBox[2] - sBox[0]).attr('height', sBox[3] - sBox[1])
      .attr('fill', 'none').attr('stroke', '#1a1a1a').attr('stroke-width', 2.6);

    xMaj.forEach(v => {
      sg.append('line').attr('x1', xS(v)).attr('x2', xS(v)).attr('y1', sBox[3]).attr('y2', sBox[3] + 6).attr('stroke', '#1a1a1a').attr('stroke-width', 2.4);
      sg.append('text').attr('class', 'scatterTick').attr('x', xS(v)).attr('y', 1800).style('text-anchor', 'middle').text(fmt1(v));
    });
    yMaj.forEach(v => {
      sg.append('line').attr('x1', sBox[0] - 6).attr('x2', sBox[0]).attr('y1', yS(v)).attr('y2', yS(v)).attr('stroke', '#1a1a1a').attr('stroke-width', 2.4);
      sg.append('text').attr('class', 'scatterTickY').attr('x', 584).attr('y', yS(v)).attr('dy', '0.35em').style('text-anchor', 'end').text(fmt1(v));
    });
    svg.append('text').attr('class', 'title32')
      .attr('transform', 'translate(540,1430) rotate(-90)')
      .style('text-anchor', 'middle').style('font-weight', 700).text('NMDS2');
    svg.append('text').attr('class', 'title32')
      .attr('x', 980).attr('y', 1847)
      .style('text-anchor', 'middle').text('NMDS1');

    // scatter legend
    groupNames.forEach((g, i) => {
      svg.append('circle').attr('cx', 1369).attr('cy', 1442 + i * 37).attr('r', 6.5)
        .attr('fill', i === 0 ? npColour : pColour);
      svg.append('text').attr('class', 'title32').attr('x', 1393).attr('y', 1453 + i * 37).text(g);
    });

    // ---- B: bottom box plot (NMDS1) ----
    const botBox = [690, 1879, 1264.5, 2035];
    const xBot = d3.scaleLinear().domain([-0.4, 0.2]).range([762, 1159]);
    const cBot = d3.scaleLinear().domain([0.4, 2.6]).range([botBox[1], botBox[3]]);
    boxPanel({
      vScale: xBot, cScale: cBot, horizontal: true,
      stats: [nmds1BoxP, nmds1BoxNP], fills: [pFill, npFill], cats: ['P', 'NP'],
      majors: [-0.4, -0.2, 0, 0.2], minors: [-0.5, -0.3, -0.1, 0.1, 0.3], fmt: fmt1, box: botBox
    });
    svg.append('text').attr('class', 'box')
      .attr('x', 977).attr('y', 2095)
      .style('text-anchor', 'middle').style('fill', '#000')
      .text('NMDS1');
  </script>
</body>
